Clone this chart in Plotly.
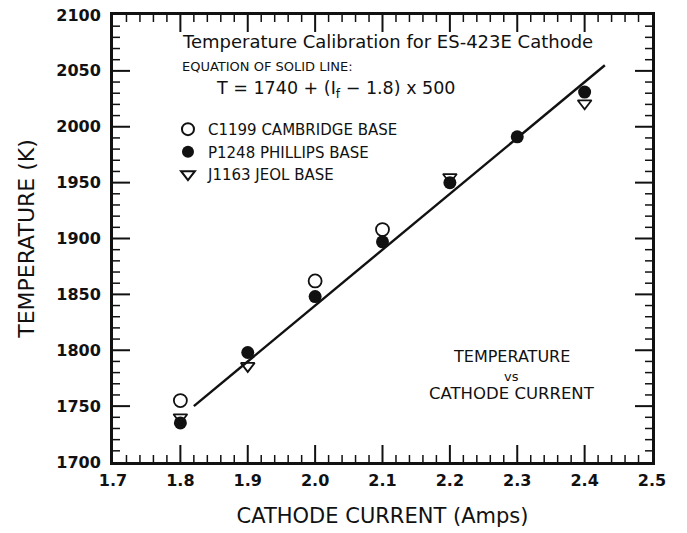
import plotly.graph_objects as go

# cathode current (A) and temperature (K) for each base
cambridge_x = [1.8, 2.0, 2.1]
cambridge_y = [1755, 1862, 1908]
phillips_x = [1.8, 1.9, 2.0, 2.1, 2.2, 2.3, 2.4]
phillips_y = [1735, 1798, 1848, 1897, 1950, 1991, 2031]
jeol_x = [1.8, 1.9, 2.2, 2.4]
jeol_y = [1740, 1786, 1955, 2021]

# solid line: T = 1740 + (If - 1.8) * 500
line_x = [1.82, 2.43]
line_y = [1740 + (x - 1.8) * 500 for x in line_x]

X_RANGE = [1.7, 2.5]
Y_RANGE = [1700, 2100]

FONT = "DejaVu Sans"
INK = "#111111"

fig = go.Figure()
fig.add_trace(go.Scatter(
    x=line_x, y=line_y, mode="lines",
    line={"color": INK, "width": 2.4}, showlegend=False, hoverinfo="skip",
))
fig.add_trace(go.Scatter(
    x=cambridge_x, y=cambridge_y, mode="markers", name="C1199 CAMBRIDGE BASE",
    marker={"symbol": "circle-open", "size": 13, "color": INK, "line": {"width": 1.8}},
))
fig.add_trace(go.Scatter(
    x=phillips_x, y=phillips_y, mode="markers", name="P1248 PHILLIPS BASE",
    marker={"symbol": "circle", "size": 13, "color": INK},
))
fig.add_trace(go.Scatter(
    x=jeol_x, y=jeol_y, mode="markers", name="J1163 JEOL BASE",
    marker={"symbol": "triangle-down-open", "size": 12, "color": INK, "line": {"width": 1.8}},
))

tickfont = {"family": FONT, "size": 16, "color": INK, "weight": "bold"}
frame = dict(showgrid=False, zeroline=False, showline=True, linecolor=INK, linewidth=3,
             mirror=True, ticks="", automargin=False, ticklabeloverflow="allow")

fig.update_layout(
    xaxis=dict(
        frame, range=X_RANGE, tick0=1.7, dtick=0.1, tickformat=".1f",
        tickfont=tickfont, ticklabelstandoff=2,
        title={"text": "CATHODE CURRENT (Amps)", "font": {"family": FONT, "size": 21, "color": INK},
               "standoff": 24},
    ),
    yaxis=dict(
        frame, range=Y_RANGE, tick0=1700, dtick=50,
        tickfont=tickfont, ticklabelstandoff=6,
        title={"text": "TEMPERATURE (K)", "font": {"family": FONT, "size": 22, "color": INK},
               "standoff": 16},
    ),
)

# inward tick marks on all four sides (the axis ticks did not render here),
# long ones every 0.1 A / 50 K, short ones every 0.02 A / 10 K
for i in range(1, 40):
    xv = round(1.7 + 0.02 * i, 2)
    yv = 1700 + 10 * i
    length, width = (17, 2) if i % 5 == 0 else (7, 1.5)
    for anchor, sign in ((0, 1), (1, -1)):
        fig.add_shape(type="line", xref="x", yref="paper", x0=xv, x1=xv,
                      ysizemode="pixel", yanchor=anchor, y0=0, y1=sign * length,
                      line={"color": INK, "width": width})
        fig.add_shape(type="line", xref="paper", yref="y", y0=yv, y1=yv,
                      xsizemode="pixel", xanchor=anchor, x0=0, x1=sign * length,
                      line={"color": INK, "width": width})

fig.add_annotation(
    text="Temperature Calibration for ES-423E Cathode", xref="paper", yref="paper",
    x=0.509, y=0.94, showarrow=False, xanchor="center", yanchor="middle",
    font={"family": FONT, "size": 18, "color": INK},
)
fig.add_annotation(
    text="EQUATION OF SOLID LINE:", xref="paper", yref="paper",
    x=0.124, y=0.884, showarrow=False, xanchor="left", yanchor="middle",
    font={"family": FONT, "size": 13, "color": INK},
)
fig.add_annotation(
    text="T = 1740 + (I<sub>f</sub> − 1.8) x 500", xref="paper", yref="paper",
    x=0.188, y=0.834, showarrow=False, xanchor="left", yanchor="middle",
    font={"family": FONT, "size": 17.5, "color": INK},
)
for label, ypos, size in [("TEMPERATURE", 0.235, 16), ("vs", 0.192, 13), ("CATHODE CURRENT", 0.154, 16.5)]:
    fig.add_annotation(
        text=label, xref="paper", yref="paper",
        x=0.74, y=ypos, showarrow=False, xanchor="center", yanchor="middle",
        font={"family": FONT, "size": size, "color": INK},
    )

fig.update_layout(
    width=671, height=520,
    margin={"l": 105, "r": 27, "t": 7, "b": 66},
    paper_bgcolor="white", plot_bgcolor="white",
    font={"family": FONT, "color": INK},
    legend={
        "x": 0.102, "y": 0.781, "xanchor": "left", "yanchor": "top",
        "bgcolor": "rgba(0,0,0,0)", "font": {"family": FONT, "size": 15, "color": INK},
        "itemsizing": "constant", "tracegroupgap": 0,
    },
)

fig.write_html("out.html")
